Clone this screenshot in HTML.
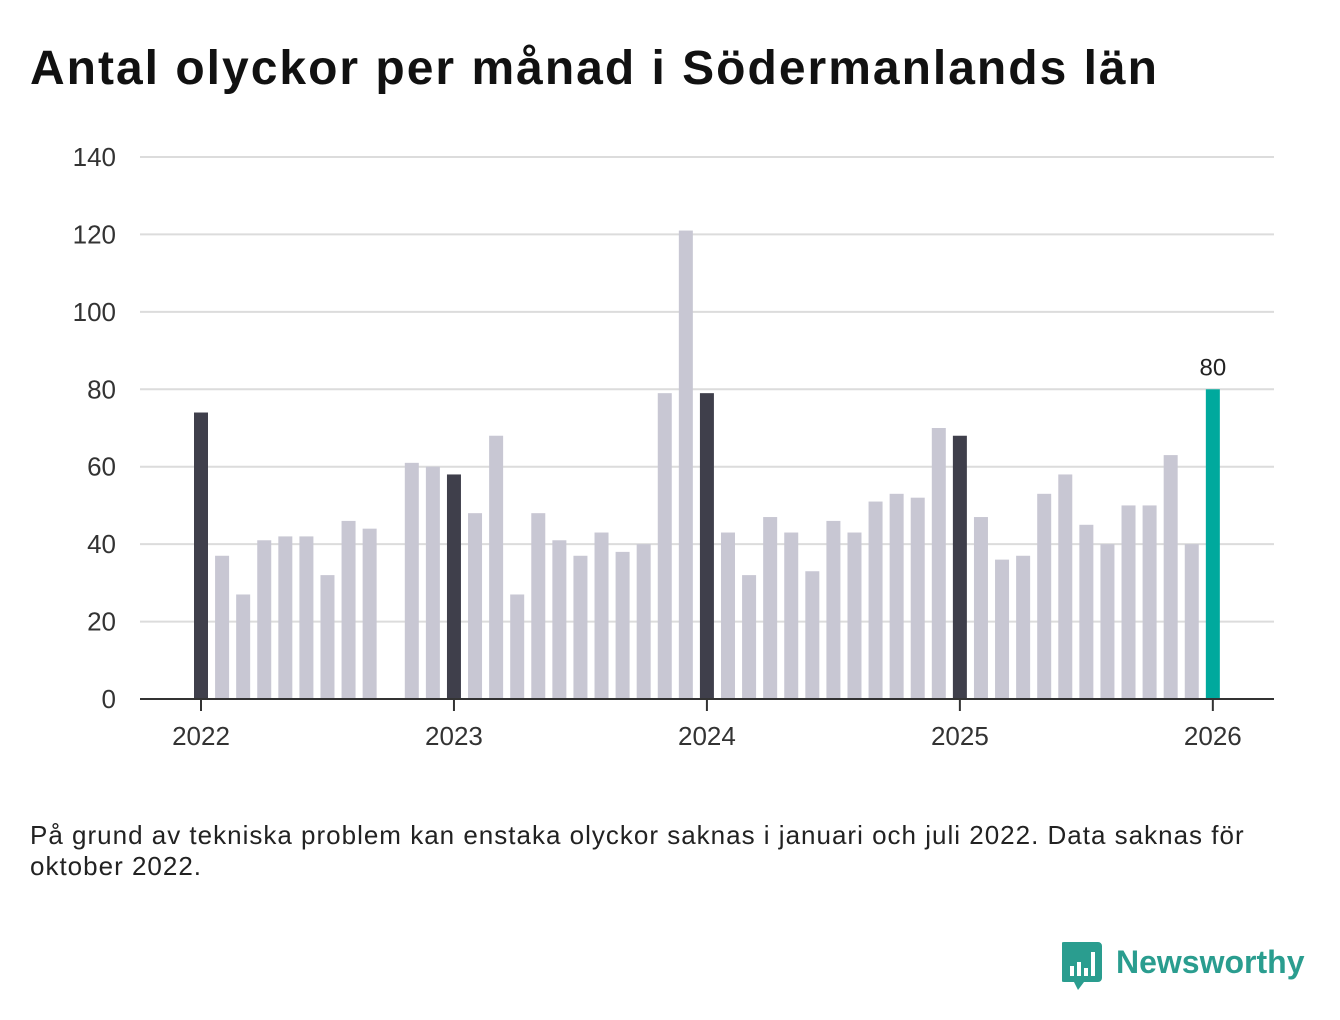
<!DOCTYPE html>
<html><head><meta charset="utf-8"><style>
body{margin:0;background:#fff;width:1340px;height:1020px;overflow:hidden;font-family:"Liberation Sans","DejaVu Sans",sans-serif;}
h1{position:absolute;left:30px;top:41px;margin:0;font-size:48px;font-weight:bold;color:#111;letter-spacing:2px}
.note{position:absolute;left:30px;top:820px;font-size:26px;line-height:31px;color:#222;width:1300px;letter-spacing:1px}
svg{position:absolute;left:0;top:0}
</style></head><body>
<h1>Antal olyckor per månad i Södermanlands län</h1>
<svg id="chart" width="1340" height="1020"></svg>
<div class="note">På grund av tekniska problem kan enstaka olyckor saknas i januari och juli 2022. Data saknas för<br>oktober 2022.</div>
<div style="position:absolute;left:1062px;top:942px;">
<svg width="250" height="50" style="position:static">
<path d="M2 0h34a4 4 0 0 1 4 4v32a4 4 0 0 1-4 4h-14l-6 8-4-8h-10a4 4 0 0 1-4-4v-32a4 4 0 0 1 4-4z" fill="#2a9d8f"/>
<rect x="8" y="24" width="4" height="10" fill="#fff"/><rect x="15" y="20" width="4" height="14" fill="#fff"/><rect x="22" y="26" width="4" height="8" fill="#fff"/><rect x="29" y="10" width="4" height="24" fill="#fff"/>
<text x="54" y="31" font-size="32" font-weight="bold" fill="#2a9d8f" font-family="Liberation Sans, sans-serif">Newsworthy</text>
</svg></div>
<script>
const years=["2022","2023","2024","2025","2026"];
const values=[74,37,27,41,42,42,32,46,44,null,61,60,
58,48,68,27,48,41,37,43,38,40,79,121,
79,43,32,47,43,33,46,43,51,53,52,70,
68,47,36,37,53,58,45,40,50,50,63,40,
80];
const yTicks=[0,20,40,60,80,100,120,140];
const svg=document.getElementById('chart');
const NS='http://www.w3.org/2000/svg';
const x0=201,step=21.08,y0=699,yScale=(699-157)/140;
const xPos=i=>x0+i*step, yPos=v=>y0-v*yScale;
function el(t,a){const e=document.createElementNS(NS,t);for(const k in a)e.setAttribute(k,a[k]);svg.appendChild(e);return e;}
yTicks.forEach(t=>{
 if(t>0){const g=el('line',{x1:140,x2:1274,y1:yPos(t),y2:yPos(t),stroke:'#dcdcdc','stroke-width':2});
 
 }
 const l=el('text',{x:116,y:yPos(t)+9,'text-anchor':'end','font-size':26,fill:'#333'});l.textContent=t;
 
 
});
values.forEach((v,i)=>{
 if(v==null)return;
 const last=i===values.length-1;
 const col=last?'#00a99d':(i%12===0?'#3f3f4b':'#c8c7d3');
 const r=el('rect',{x:xPos(i)-7,y:yPos(v),width:14,height:v*yScale,fill:col});
 
 
 if(last){const t=el('text',{x:xPos(i),y:yPos(v)-14,'text-anchor':'middle','font-size':24,fill:'#222'});t.textContent=v;
 
 }
});
const ax=el('line',{x1:140,x2:1274,y1:y0,y2:y0,stroke:'#333','stroke-width':2});


years.forEach((y,k)=>{
 const x=xPos(k*12);
 const tk=el('line',{x1:x,x2:x,y1:y0,y2:y0+12,stroke:'#333','stroke-width':2});
 
 
 const t=el('text',{x:x,y:745,'text-anchor':'middle','font-size':26,fill:'#333'});t.textContent=y;
 
 
});
</script>
</body></html>
